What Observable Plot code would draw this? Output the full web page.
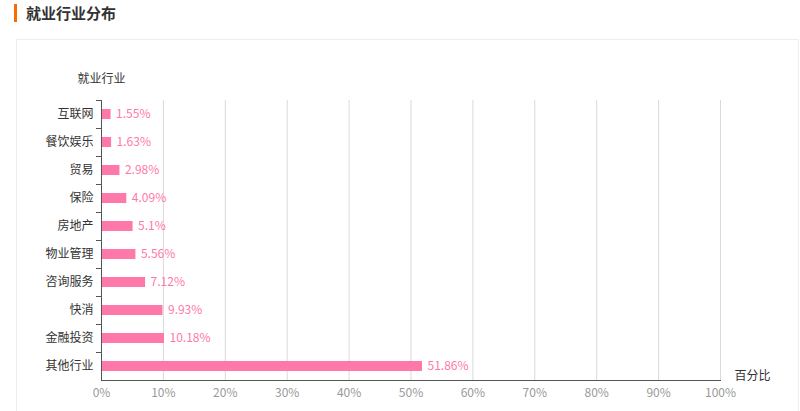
<!DOCTYPE html>
<html><head><meta charset="utf-8">
<script src="https://cdn.jsdelivr.net/npm/d3@7"></script>
<script src="https://cdn.jsdelivr.net/npm/@observablehq/plot@0.6"></script>
<style>
html,body{margin:0;padding:0;background:#fff;width:800px;height:411px;overflow:hidden;font-family:"Noto Sans CJK SC","Noto Sans",sans-serif;}
#title{position:absolute;left:14px;top:4px;height:18px;border-left:3px solid #ff6a00;padding-left:9px;font-size:15px;font-weight:bold;color:#333;line-height:18px;}
#panel{position:absolute;left:16px;top:39px;width:781px;height:400px;border:1px solid #eee;}
#chart{position:absolute;left:0;top:0;}
</style></head>
<body>
<div id="title">就业行业分布</div>
<div id="panel"></div>
<div id="chart"></div>
<script>
const industries = ["互联网","餐饮娱乐","贸易","保险","房地产","物业管理","咨询服务","快消","金融投资","其他行业"];
const percents = [1.55,1.63,2.98,4.09,5.1,5.56,7.12,9.93,10.18,51.86];
const valueLabels = ["1.55%","1.63%","2.98%","4.09%","5.1%","5.56%","7.12%","9.93%","10.18%","51.86%"];
const xTicks = [0,10,20,30,40,50,60,70,80,90,100];
const yAxisTitle = "就业行业";
const xAxisTitle = "百分比";

const data = industries.map((name,i)=>({name, value: percents[i], label: valueLabels[i]}));
const pink = "#ff78aa";
const font = "\"Noto Sans CJK SC\", sans-serif";

const chart = Plot.plot({
  width: 800, height: 411,
  marginLeft: 101, marginRight: 80, marginTop: 100, marginBottom: 31,
  style: {fontFamily: font, fontSize: "12px", background: "transparent", overflow: "visible"},
  x: {domain: [0,100], label: null},
  y: {domain: industries, padding: 0, label: null},
  marks: [
    Plot.gridX(xTicks.filter(d=>d>0), {stroke: "#d9d9d9", strokeOpacity: 1}),
    Plot.barX(data, {y: "name", x: "value", fill: pink, insetTop: 9, insetBottom: 9}),
    Plot.text(data, {y: "name", x: "value", text: "label", fill: pink, textAnchor: "start", dx: 5, fontSize: 12}),
    Plot.axisX({ticks: xTicks, tickFormat: d => d + "%", tickSize: 0, tickPadding: 8, color: "#999", label: null, fontSize: 12}),
    Plot.axisY({tickSize: 0, tickPadding: 8, color: "#333", label: null, fontSize: 12}),
    Plot.axisY({tickSize: 5, text: null, dy: -14, stroke: "#555", label: null}),
    Plot.frame({anchor: "bottom", stroke: "#555"}),
    Plot.frame({anchor: "left", stroke: "#555"}),
    Plot.text([yAxisTitle], {frameAnchor: "top-left", textAnchor: "middle", dx: 0, dy: -26, fill: "#333", fontSize: 12}),
    Plot.text([xAxisTitle], {frameAnchor: "bottom-right", textAnchor: "start", dx: 14, dy: -1, fill: "#333", fontSize: 12})
  ]
});
document.getElementById("chart").appendChild(chart);
</script>
</body></html>
